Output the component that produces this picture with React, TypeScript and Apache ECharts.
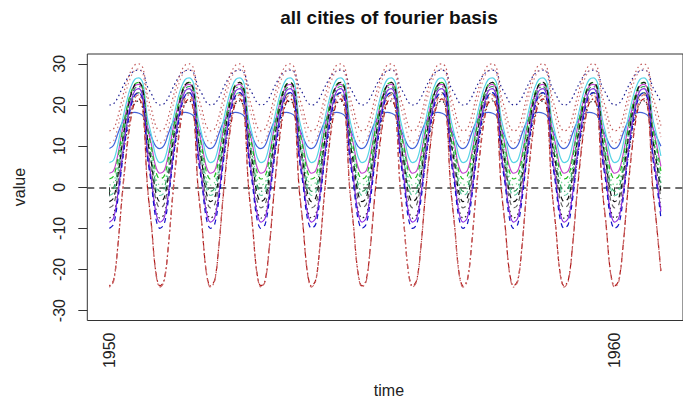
import React, { useEffect, useRef } from "react";
import * as echarts from "echarts";

// Years of the series (one annual cycle per year, monthly values Jan..Dec)
const YEARS = [1950, 1951, 1952, 1953, 1954, 1955, 1956, 1957, 1958, 1959, 1960];
const MONTHS = ["Jan", "Feb", "Mar", "Apr", "May", "Jun", "Jul", "Aug", "Sep", "Oct", "Nov", "Dec"];

// Fitted annual cycles of each city (value per month)
const city01 = [20.0, 20.3, 21.8, 24.0, 26.0, 27.5, 28.3, 28.5, 27.9, 24.6, 22.7, 20.7];
const city02 = [13.7, 14.2, 17.1, 21.4, 25.1, 28.0, 29.7, 30.0, 28.9, 22.5, 18.9, 15.0];
const city03 = [10.8, 11.3, 14.6, 19.3, 23.4, 26.6, 28.4, 28.8, 27.5, 20.5, 16.6, 12.2];
const city04 = [9.4, 10.2, 13.0, 15.6, 17.2, 18.0, 18.2, 18.0, 17.3, 14.6, 12.2, 10.0];
const city05 = [6.0, 6.6, 10.3, 15.7, 20.4, 24.1, 26.2, 26.6, 25.2, 17.1, 12.6, 7.6];
const city06 = [3.4, 4.0, 7.9, 13.6, 18.5, 22.4, 24.6, 25.0, 23.5, 15.1, 10.3, 5.1];
const city07 = [2.0, 2.7, 6.9, 13.0, 18.5, 22.7, 25.0, 25.5, 23.9, 14.7, 9.5, 3.9];
const city08 = [0.5, 1.2, 5.4, 11.5, 17.0, 21.2, 23.5, 24.0, 22.4, 13.2, 8.0, 2.4];
const city09 = [-1.0, -0.2, 4.4, 11.0, 16.9, 21.4, 24.0, 24.5, 22.7, 12.8, 7.2, 1.0];
const city10 = [-2.0, -1.3, 3.3, 9.8, 15.5, 20.0, 22.5, 23.0, 21.3, 11.5, 6.0, 0.0];
const city11 = [-3.5, -2.6, 2.6, 10.1, 16.8, 22.0, 24.9, 25.5, 23.5, 12.2, 5.8, -1.2];
const city12 = [-5.0, -4.2, 0.9, 8.2, 14.6, 19.6, 22.4, 23.0, 21.0, 10.1, 4.0, -2.8];
const city13 = [-7.5, -6.6, -1.5, 5.9, 12.5, 17.6, 20.4, 21.0, 19.0, 7.9, 1.6, -5.2];
const city14 = [-8.5, -7.5, -1.7, 6.8, 14.3, 20.1, 23.4, 24.0, 21.7, 9.1, 1.9, -5.9];
const city15 = [-10.0, -9.0, -3.1, 5.5, 13.1, 19.0, 22.3, 23.0, 20.7, 7.8, 0.6, -7.4];
const city16 = [-24.0, -22.6, -14.4, -2.6, 7.9, 16.0, 20.6, 21.5, 18.3, 0.6, -9.4, -20.4];
const city17 = [-24.3, -22.9, -14.5, -2.3, 8.5, 16.9, 21.6, 22.5, 19.2, 1.0, -9.3, -20.6];

const X_TICKS = [1950, 1960];
const Y_TICKS = [-30, -20, -10, 0, 10, 20, 30];

const DOT = [1.5, 3];
const DASH = [5, 4];
const DOTDASH = [1.5, 3, 5, 3];

const CITY_STYLES = [
  { values: city01, color: "#1c1c90", type: DOT },
  { values: city02, color: "#c25656", type: DOT },
  { values: city03, color: "#d08484", type: DOT },
  { values: city04, color: "#4262d8", type: "solid" },
  { values: city05, color: "#58d4e6", type: "solid" },
  { values: city06, color: "#c444cc", type: "solid" },
  { values: city07, color: "#1fbf1f", type: DASH },
  { values: city08, color: "#74dc94", type: DOT },
  { values: city09, color: "#2e9a57", type: DOTDASH },
  { values: city10, color: "#62c9a2", type: DASH },
  { values: city11, color: "#111111", type: DASH },
  { values: city12, color: "#666666", type: DASH },
  { values: city13, color: "#222222", type: DOT },
  { values: city14, color: "#8a2be2", type: "solid" },
  { values: city15, color: "#1212c8", type: DASH },
  { values: city16, color: "#b01818", type: DOTDASH },
  { values: city17, color: "#c86464", type: DOTDASH },
];

const FONT = "'Liberation Sans', Arial, sans-serif";

export default function App() {
  const ref = useRef<HTMLDivElement>(null);

  useEffect(() => {
    if (!ref.current) return;
    const chart = echarts.init(ref.current, null, { renderer: "svg" });

    const gridLeft = 87.3;
    const gridTop = 54;
    const gridWidth = 603.3;
    const gridHeight = 266.5;
    const cx = gridLeft + gridWidth / 2;

    const series: any[] = CITY_STYLES.map((c, i) => ({
      type: "line",
      name: "city" + (i + 1),
      data: YEARS.flatMap((y) => MONTHS.map((_, m) => [y + m / 12, c.values[m]])),
      showSymbol: false,
      smooth: 0.35,
      lineStyle: { color: c.color, width: 1.2, type: c.type },
      z: 2 + i,
    }));

    series.push({
      type: "line",
      data: [],
      z: 40,
      markLine: {
        silent: true,
        symbol: "none",
        label: { show: false },
        lineStyle: { color: "#404040", type: [7, 5], width: 1.5 },
        data: [{ yAxis: 0 }],
      },
    });

    chart.setOption({
      animation: false,
      backgroundColor: "#ffffff",
      grid: {
        left: gridLeft,
        top: gridTop,
        width: gridWidth,
        height: gridHeight,
        show: true,
        borderColor: "#333333",
        borderWidth: 1,
        backgroundColor: "transparent",
      },
      xAxis: {
        type: "value",
        min: 1949.563,
        max: 1961.354,
        axisLine: { show: false },
        splitLine: { show: false },
        axisTick: { show: true, length: 9, lineStyle: { color: "#333" }, customValues: X_TICKS },
        axisLabel: {
          rotate: 90,
          margin: 12,
          color: "#222",
          fontSize: 16,
          fontFamily: FONT,
          customValues: X_TICKS,
          formatter: (v: number) => String(Math.round(v)),
        },
      },
      yAxis: {
        type: "value",
        min: -32.4,
        max: 32.4,
        axisLine: { show: false },
        splitLine: { show: false },
        axisTick: { show: true, length: 9, lineStyle: { color: "#333" }, customValues: Y_TICKS },
        axisLabel: {
          rotate: 90,
          margin: 20,
          color: "#222",
          fontSize: 16,
          fontFamily: FONT,
          customValues: Y_TICKS,
          formatter: (v: number) => String(Math.round(v)),
        },
      },
      graphic: [
        {
          type: "text",
          x: cx,
          y: 17,
          style: {
            text: "all cities of fourier basis",
            font: "bold 19px " + FONT,
            fill: "#111",
            textAlign: "center",
            textVerticalAlign: "middle",
          },
        },
        {
          type: "text",
          x: cx,
          y: 390,
          style: {
            text: "time",
            font: "16px " + FONT,
            fill: "#222",
            textAlign: "center",
            textVerticalAlign: "middle",
          },
        },
        {
          type: "text",
          x: 19,
          y: 187,
          rotation: Math.PI / 2,
          style: {
            text: "value",
            font: "16px " + FONT,
            fill: "#222",
            textAlign: "center",
            textVerticalAlign: "middle",
          },
        },
      ],
      series,
    });

    return () => chart.dispose();
  }, []);

  return (
    <div
      ref={ref}
      style={{ position: "fixed", left: 0, top: 0, width: 683, height: 402, background: "#fff" }}
    />
  );
}
